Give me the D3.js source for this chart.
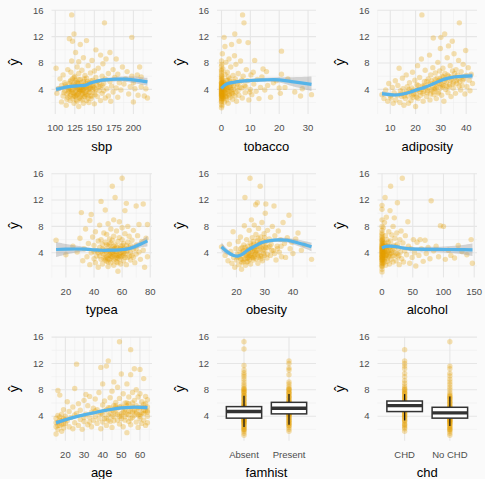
<!DOCTYPE html>
<html>
<head>
<meta charset="utf-8">
<script src="https://cdn.jsdelivr.net/npm/d3@7"></script>
<style>
body { margin: 0; background: #fafafa; }
svg { display: block; font-family: "Liberation Sans", Arial, sans-serif; }
</style>
</head>
<body>
<div id="chart"></div>
<script>
// y values (fitted values) share one range across all panels
var yRange = [0.98, 15.33];
var yTicks = [4, 8, 12, 16];
var yMinor = [2, 6, 10, 14];

// scatter panels: [x, yhat]
var sbpPoints = [[101,7.2],[102,3.4],[104,4.1],[106,5.6],[108,2.1],[108,4.6],[110,3.0],[110,6.2],[112,3.8],[112,5.0],[114,1.6],[114,4.4],[116,2.8],[116,7.0],[117,3.6],[118,4.9],[118,11.7],[119,2.3],[120,3.2],[120,4.0],[120,5.4],[120,6.6],[121,15.3],[121,8.3],[122,2.6],[122,3.9],[122,11.3],[123,4.7],[124,1.9],[124,3.4],[124,5.8],[124,12.4],[125,4.2],[125,6.0],[126,2.9],[126,3.7],[126,9.6],[127,4.5],[128,2.2],[128,3.1],[128,5.1],[128,7.4],[129,4.0],[130,1.4],[130,3.5],[130,4.8],[130,6.4],[130,8.2],[131,2.7],[132,3.9],[132,5.5],[132,10.8],[133,4.3],[134,2.4],[134,3.3],[134,6.9],[135,4.6],[136,1.9],[136,3.8],[136,5.2],[136,8.8],[137,4.1],[138,2.9],[138,6.1],[138,3.5],[139,4.9],[140,2.3],[140,4.4],[140,5.7],[140,11.4],[141,3.1],[142,7.6],[142,4.0],[143,2.0],[144,5.0],[144,3.6],[145,6.5],[146,4.6],[146,2.6],[147,8.4],[148,3.9],[148,5.4],[150,1.8],[150,4.2],[150,6.8],[151,3.2],[152,5.8],[152,10.0],[153,4.7],[154,2.9],[155,7.2],[156,3.8],[156,5.1],[158,2.3],[158,4.4],[158,9.2],[160,6.0],[160,3.4],[161,7.9],[162,4.9],[163,14.1],[164,2.7],[164,5.6],[165,8.6],[166,4.1],[168,6.4],[168,3.0],[170,5.2],[170,9.6],[171,2.2],[172,4.5],[174,7.0],[174,3.6],[176,5.8],[178,8.6],[178,4.2],[180,2.8],[180,6.3],[182,5.0],[184,3.9],[186,7.4],[188,4.8],[190,5.6],[192,6.7],[194,3.3],[196,4.4],[198,11.9],[198,6.0],[200,2.1],[200,5.0],[202,4.1],[205,6.2],[206,3.1],[208,7.4],[210,4.4],[210,5.9],[214,3.0],[216,4.1],[218,2.7],
  [115,3.3],[118,4.2],[121,3.6],[123,2.9],[126,4.4],[127,3.2],[129,4.9],[131,3.7],[133,2.6],[135,3.9],[137,3.0],[139,4.3],[141,4.9],[143,3.5],[145,4.2],[147,3.0],[149,4.6],[119,5.2],[125,5.1],[131,4.3],
  [111,3.5],[113,4.7],[115,2.5],[117,4.0],[119,3.0],[121,4.6],[122,5.6],[123,3.5],[124,4.5],[126,5.4],[127,2.4],[128,4.1],[129,3.3],[130,5.5],[131,4.0],[132,2.9],[133,5.0],[134,4.0],[135,3.3],[136,4.4],[137,5.6],[138,4.5],[139,3.2],[140,3.7],[141,5.2],[142,2.7],[143,4.4],[144,4.1],[145,3.0],[146,5.3],[148,4.4],[150,3.5],[152,4.0],[154,5.2],[156,4.4],[160,4.6],[162,3.8],[118,3.8],[125,3.0],[133,3.7]];
var tobaccoPoints = [[0,1.2],[0,1.7],[0,2.1],[0,2.4],[0,2.7],[0,2.9],[0,3.1],[0,3.3],[0,3.5],[0,3.7],[0,3.9],[0,4.1],[0,4.3],[0,4.5],[0,4.8],[0,5.1],[0,5.4],[0,5.8],[0,6.2],[0,6.8],[0,7.5],[0,8.3],[0,2.2],[0,3.0],[0,3.6],[0,4.0],[0,4.6],[0.1,2.5],[0.1,3.4],[0.1,4.9],[0.2,1.5],[0.2,3.8],[0.3,2.9],[0.3,5.6],[0.4,4.2],[0.5,3.2],[0.5,7.1],[0.6,2.6],[0.7,4.4],[0.8,3.6],[0.9,11.9],[1.0,5.0],[1.0,2.1],[1.1,3.9],[1.2,10.5],[1.2,6.3],[1.3,4.7],[1.4,3.0],[1.5,8.1],[1.6,5.4],[1.8,2.4],[1.8,4.1],[2.0,3.4],[2.0,6.6],[2.1,4.8],[2.3,1.9],[2.4,5.9],[2.5,3.7],[2.6,8.6],[2.8,4.4],[3.0,2.8],[3.0,5.2],[3.2,7.4],[3.4,3.9],[3.5,10.8],[3.6,4.9],[3.8,2.5],[4.0,6.1],[4.0,3.3],[4.2,4.5],[4.5,9.1],[4.6,12.4],[4.8,5.6],[5.0,3.6],[5.0,7.8],[5.2,2.2],[5.5,4.8],[5.8,6.4],[6.0,3.1],[6.1,11.3],[6.3,5.1],[6.6,8.3],[7.0,4.2],[7.2,2.7],[7.3,15.3],[7.5,6.0],[7.8,14.1],[8.0,4.6],[8.2,3.5],[8.6,7.0],[9.0,5.3],[9.2,11.1],[9.5,2.4],[10.0,4.0],[10.2,6.2],[10.5,3.2],[11.0,6.6],[11.2,4.8],[11.5,8.4],[12.0,3.7],[12.4,5.5],[13.0,2.6],[13.5,4.3],[14.0,5.9],[14.4,7.1],[15.0,3.9],[15.6,6.7],[16.0,4.6],[17.0,2.8],[18.0,5.0],[19.0,5.3],[20.0,4.2],[20.4,3.4],[20.8,6.3],[20.8,9.8],[22.0,4.3],[23.0,5.6],[25.4,3.6],[27.4,3.0],[28.0,4.1],[31.2,3.2],
  [0,3.2],[0,4.4],[0,5.0],[0.2,3.0],[0.4,5.2],[0.6,3.8],[0.8,4.6],[1.0,3.3],[1.4,4.4],[1.6,2.9],[2.2,4.0],[2.6,3.1],[3.2,4.2],[3.6,3.4],[4.4,5.2],[0.05,6.0],[0.1,7.8],[0.3,9.4],
  [0,2.6],[0,3.4],[0,3.8],[0,4.2],[0,4.9],[0,5.6],[0.05,3.3],[0.15,4.0],[0.25,4.6],[0.35,3.5],[0.45,2.8],[0.55,5.0],[0.7,3.0],[0.9,4.1],[1.1,4.8],[1.3,3.5],[1.5,2.7],[1.7,4.5],[1.9,3.8],[2.1,5.4],[2.4,4.3],[2.7,3.2],[2.9,5.6],[3.3,4.6],[3.7,3.6],[4.1,4.0],[4.7,3.0],[5.3,4.4],[5.7,3.8],[6.4,4.3],[7.0,5.4],[8.4,4.4],[9.8,3.6],[0,6.5],[0,7.0]];
var adiposityPoints = [[6.7,3.2],[7.5,2.6],[8.2,3.9],[9.0,2.2],[9.4,4.9],[10.0,3.0],[10.3,2.7],[10.8,4.3],[11.2,1.9],[11.5,3.5],[12.0,5.3],[12.2,2.4],[12.8,3.1],[13.0,4.6],[13.5,7.2],[13.8,2.0],[14.0,3.8],[14.5,2.9],[14.8,5.7],[15.0,4.1],[15.4,1.6],[15.8,3.4],[16.0,2.6],[16.3,6.2],[16.7,4.4],[17.0,3.0],[17.2,1.9],[17.6,5.0],[18.0,3.6],[18.2,2.3],[18.5,4.2],[18.8,6.6],[19.0,2.8],[19.3,3.9],[19.7,5.4],[20.0,1.4],[20.2,3.3],[20.5,4.7],[20.8,7.6],[21.0,2.6],[21.3,4.0],[21.6,5.8],[22.0,3.1],[22.3,8.6],[22.5,15.3],[22.6,4.5],[23.0,2.2],[23.2,3.7],[23.5,5.2],[23.8,6.9],[24.0,4.2],[24.3,2.9],[24.6,3.5],[25.0,5.6],[25.2,4.8],[25.5,9.2],[25.7,2.4],[26.0,6.2],[26.2,3.9],[26.5,4.5],[26.8,7.3],[27.0,11.8],[27.2,3.2],[27.5,5.0],[27.8,6.5],[28.0,4.1],[28.2,2.6],[28.5,5.7],[28.8,8.1],[29.0,3.6],[29.3,4.9],[29.5,6.8],[29.8,10.2],[30.0,5.3],[30.0,11.9],[30.3,3.1],[30.6,4.4],[30.8,7.2],[31.0,5.9],[31.2,2.2],[31.5,12.4],[31.6,6.4],[31.9,4.0],[32.2,5.1],[32.5,8.8],[32.8,3.5],[33.0,10.6],[33.1,6.0],[33.4,4.7],[33.7,7.6],[34.0,2.9],[34.2,5.5],[34.5,11.3],[34.6,6.8],[34.9,4.2],[35.2,9.4],[35.5,5.8],[35.8,3.4],[36.0,7.0],[36.3,4.9],[36.6,6.2],[37.0,8.4],[37.3,14.1],[37.5,5.2],[37.8,3.9],[38.0,6.7],[38.4,4.6],[38.8,7.8],[39.0,5.6],[39.5,3.3],[39.8,9.9],[40.0,6.1],[40.3,4.4],[40.8,7.3],[41.2,5.4],[41.5,3.8],[42.0,6.3],[42.5,4.9],
  [14.2,3.3],[16.5,3.6],[18.6,3.1],[20.4,2.8],[21.8,3.6],[23.6,4.4],[24.8,3.8],[26.4,5.3],[27.6,4.2],[28.6,4.8],[29.6,5.6],[30.4,4.7],[31.4,5.2],[32.4,4.4],[33.6,5.4],[35.0,5.1],[36.8,5.6],[38.2,5.9],
  [15.5,3.0],[17.4,4.0],[19.2,3.3],[20.7,3.9],[22.4,4.0],[23.3,4.6],[24.4,5.2],[25.3,4.2],[26.1,4.9],[26.9,3.6],[27.7,5.5],[28.4,4.4],[29.1,5.3],[29.9,4.2],[30.5,6.0],[31.1,4.6],[31.8,5.6],[32.6,6.2],[33.2,4.4],[34.1,5.9],[34.7,4.8],[35.4,6.4],[36.2,5.3],[37.2,4.5],[38.6,5.4],[25.9,3.3],[27.3,4.0],[28.9,3.4],[22.9,3.4],[21.1,4.6]];
var typeaPoints = [[13,5.9],[20,3.7],[25,5.0],[28,4.1],[30,6.2],[31,10.1],[32,2.8],[33,4.6],[34,7.6],[35,3.4],[36,5.4],[37,2.2],[37,8.9],[38,9.8],[38,4.0],[39,6.4],[40,3.1],[40,5.1],[41,2.5],[41,7.2],[42,4.3],[42,3.5],[43,5.8],[43,1.8],[44,4.8],[44,8.2],[45,11.8],[45,3.0],[45,6.0],[46,3.9],[46,2.3],[46,5.3],[47,4.5],[47,7.0],[48,3.3],[48,10.5],[48,5.6],[49,2.7],[49,4.1],[49,6.8],[50,3.6],[50,5.0],[50,8.4],[50,1.9],[51,4.4],[51,6.1],[51,3.0],[52,5.5],[52,2.5],[52,4.0],[52,7.6],[53,3.4],[53,14.1],[53,5.9],[53,4.7],[54,2.1],[54,3.8],[54,6.5],[54,9.0],[55,12.4],[55,4.2],[55,5.2],[55,3.1],[56,2.6],[56,4.9],[56,7.3],[57,3.6],[57,5.7],[57,1.2],[58,4.4],[58,6.3],[58,3.0],[58,8.7],[59,2.3],[59,5.0],[59,4.0],[60,15.3],[60,3.5],[60,6.0],[60,7.8],[61,4.6],[61,2.8],[61,5.4],[62,3.9],[62,10.4],[62,6.9],[63,11.5],[63,4.2],[63,2.2],[64,5.6],[64,3.3],[64,8.0],[65,4.8],[65,6.5],[66,2.9],[66,4.0],[67,5.9],[67,3.6],[68,7.4],[68,4.5],[69,2.5],[70,11.1],[70,5.2],[70,3.8],[71,6.6],[72,4.1],[72,8.3],[73,3.0],[74,5.7],[75,11.4],[75,4.4],[76,1.8],[77,6.2],[78,8.3],[78,3.4],
  [47,3.8],[49,3.4],[50,4.3],[51,3.7],[52,3.2],[53,4.1],[54,4.5],[55,3.6],[56,4.2],[57,3.2],[58,3.8],[59,4.6],[60,4.2],[61,3.6],[62,4.7],[54,2.9],[56,3.3],[50,2.6],
  [45,4.2],[46,4.6],[47,3.1],[48,4.3],[49,5.2],[50,3.1],[51,5.3],[52,4.5],[53,3.8],[54,5.0],[55,4.6],[56,3.7],[57,4.7],[58,3.5],[59,3.4],[60,5.1],[61,4.0],[62,3.3],[63,5.1],[64,4.3],[65,3.5],[66,5.1],[57,2.5],[52,3.5],[48,2.9],[43,4.0],[40,4.2],[68,3.3],[70,4.6],[44,3.5]];
var obesityPoints = [[14.7,4.9],[16.0,3.6],[17.0,2.8],[17.5,5.3],[18.0,4.2],[18.4,2.4],[18.8,7.2],[19.0,3.3],[19.4,1.8],[19.8,4.6],[20.0,2.9],[20.3,3.8],[20.6,5.7],[20.9,2.2],[21.2,4.1],[21.4,6.4],[21.6,3.0],[21.8,1.5],[22.0,4.8],[22.2,3.5],[22.4,2.6],[22.6,5.2],[22.8,8.1],[23.0,12.4],[23.0,3.9],[23.2,2.1],[23.4,4.4],[23.6,6.0],[23.8,3.2],[24.0,5.0],[24.1,2.7],[24.3,4.0],[24.5,7.4],[24.7,3.6],[24.8,15.3],[24.9,5.5],[25.0,2.3],[25.2,4.6],[25.3,9.0],[25.5,3.3],[25.6,6.3],[25.8,4.2],[26.0,2.9],[26.1,5.3],[26.3,8.2],[26.4,3.7],[26.6,4.9],[26.8,11.3],[26.9,6.8],[27.0,3.1],[27.2,4.4],[27.4,11.6],[27.4,5.8],[27.6,2.4],[27.8,7.7],[28.0,4.0],[28.1,5.4],[28.4,14.1],[28.4,3.5],[28.6,6.4],[28.8,4.7],[29.0,8.6],[29.2,2.8],[29.4,5.1],[29.6,3.9],[29.8,6.9],[30.0,4.4],[30.2,10.0],[30.4,11.4],[30.5,5.7],[30.8,3.2],[31.0,7.4],[31.2,4.8],[31.6,6.1],[32.0,3.6],[32.3,5.3],[32.7,8.0],[33.0,4.3],[33.3,11.1],[33.6,6.6],[34.0,2.9],[34.4,5.0],[34.8,7.3],[35.2,4.1],[35.6,6.0],[36.0,3.4],[36.5,8.6],[37.0,5.4],[37.4,3.3],[38.0,6.3],[38.6,9.7],[39.0,4.6],[39.6,5.6],[40.0,3.9],[41.0,6.1],[41.8,7.0],[43.0,4.4],[44.0,5.2],[46.6,3.0],
  [21.0,3.4],[22.1,4.1],[22.9,3.1],[23.5,3.6],[24.2,4.5],[24.6,3.0],[25.1,3.9],[25.7,4.8],[26.2,3.4],[26.7,4.1],[27.1,5.0],[27.5,3.7],[28.2,4.5],[28.9,3.5],[29.5,4.4],[30.1,5.1],[22.5,4.3],[23.9,3.8],[25.4,3.6],[26.5,4.4],
  [21.5,4.6],[22.3,2.9],[23.1,4.8],[23.7,2.6],[24.4,3.4],[24.9,4.3],[25.3,5.1],[25.9,3.2],[26.3,4.6],[26.9,3.9],[27.3,5.2],[27.8,3.3],[28.3,4.9],[28.7,3.1],[29.3,5.8],[29.9,3.6],[30.4,4.8],[31.0,3.8],[31.8,5.0],[32.5,4.4],[20.5,3.3],[21.8,2.6],[24.0,3.2],[26.0,5.7],[27.6,6.2],[28.6,5.6],[30.0,6.3],[33.5,3.9],[34.5,4.6],[35.8,5.0]];
var alcoholPoints = [[0,1.1],[0,1.5],[0,1.9],[0,2.2],[0,2.5],[0,2.8],[0,3.0],[0,3.2],[0,3.4],[0,3.6],[0,3.8],[0,4.0],[0,4.2],[0,4.4],[0,4.6],[0,4.9],[0,5.2],[0,5.5],[0,5.9],[0,6.3],[0,6.8],[0,7.4],[0,8.0],[0,9.0],[0,10.6],[0,11.2],[0,2.0],[0,3.3],[0,4.7],[0.5,2.7],[0.5,3.9],[0.8,5.1],[1,3.1],[1,6.1],[1.5,4.3],[2,2.4],[2,7.8],[2.5,3.6],[3,5.4],[3,4.0],[3.5,2.9],[4,8.6],[4,4.6],[5,12.4],[5,3.3],[5.5,6.6],[6,2.1],[6,5.0],[7,3.8],[7,9.4],[8,4.4],[8,6.0],[9,2.7],[10,5.6],[10,3.5],[11,7.2],[12,4.8],[12,2.3],[13,10.4],[13,3.9],[14,14.1],[14,5.8],[15,3.0],[16,6.7],[17,4.4],[18,8.0],[18,2.6],[19,5.1],[20,3.6],[20,9.3],[21,6.2],[22,4.0],[23,2.8],[24,7.0],[25,11.6],[25,5.3],[26,3.4],[27,4.7],[28,2.2],[29,6.0],[30,4.1],[31,7.3],[32,3.1],[33,15.3],[34,5.5],[35,2.6],[37,4.3],[38,6.6],[40,3.7],[42,8.7],[43,5.0],[45,2.4],[47,4.6],[49,3.3],[51,6.0],[53,4.0],[55,2.0],[57,5.6],[60,3.6],[62,6.0],[64,4.6],[67,2.7],[70,5.9],[72,3.9],[75,4.8],[78,3.1],[80,11.9],[84,4.3],[88,5.0],[92,3.4],[95,8.1],[100,8.0],[103,3.0],[108,4.4],[112,3.6],[118,3.2],[124,5.1],[130,4.2],[138,3.7],[145,6.0],[147,2.4],
  [0,3.5],[0,4.1],[0,5.0],[0,6.0],[0,7.0],[0.2,4.5],[0.6,3.4],[1.2,5.6],[1.8,3.7],[2.2,4.9],[3.2,3.2],[4.5,4.2],[5.2,5.5],[6.5,3.6],[7.5,4.9],[9.5,4.1],[11.5,3.4],[14.5,4.4],
  [0,2.4],[0,2.9],[0,3.7],[0,4.3],[0,4.8],[0,5.3],[0,5.7],[0,6.5],[0.3,3.0],[0.7,4.0],[1.0,4.6],[1.3,3.3],[2.0,4.2],[2.7,5.0],[3.5,3.8],[4.2,2.6],[5.0,4.1],[6.0,3.6],[6.8,4.5],[8.5,3.1],[9.0,5.1],[10.5,4.3],[12.5,3.7],[13.5,5.0],[15.5,4.0],[17.5,3.5],[19.5,4.6],[22.5,5.0],[24.5,3.9],[27.5,3.6]];
var agePoints = [[15,1.3],[15,2.4],[15,3.7],[16,2.0],[16,3.1],[16,4.1],[16,7.9],[17,2.6],[17,3.4],[17,7.2],[18,1.7],[18,2.8],[18,4.3],[19,2.2],[19,3.6],[19,5.0],[20,2.9],[20,4.0],[21,3.3],[21,6.2],[22,2.4],[22,4.7],[23,3.8],[24,2.1],[24,5.4],[25,8.2],[25,3.0],[26,11.9],[26,4.4],[27,2.6],[27,5.9],[28,3.5],[28,4.9],[29,2.0],[30,6.4],[30,3.2],[31,4.3],[31,7.3],[32,2.7],[32,5.6],[33,3.8],[33,7.0],[34,4.6],[34,2.4],[35,5.2],[35,3.4],[36,6.6],[36,4.0],[37,2.9],[37,5.0],[38,7.6],[38,3.6],[39,11.4],[39,4.4],[39,2.1],[40,5.7],[40,3.1],[40,8.9],[41,4.8],[41,6.3],[42,11.6],[42,3.7],[42,2.6],[43,12.4],[43,5.3],[43,4.2],[44,6.8],[44,3.2],[45,4.9],[45,7.8],[45,2.3],[46,5.6],[46,3.9],[46,9.2],[47,4.5],[47,6.1],[48,3.4],[48,5.2],[48,8.4],[49,15.3],[49,4.0],[49,6.7],[49,2.8],[50,5.5],[50,3.6],[50,10.4],[51,4.6],[51,7.4],[51,2.4],[52,6.0],[52,3.9],[52,5.0],[53,8.9],[53,4.3],[53,1.5],[54,5.9],[54,3.2],[54,6.9],[55,14.1],[55,4.7],[55,10.3],[55,2.7],[56,5.4],[56,3.8],[56,7.6],[57,11.2],[57,4.9],[57,6.4],[58,3.1],[58,5.6],[58,8.0],[59,4.2],[59,6.9],[59,2.3],[60,5.2],[60,3.6],[60,11.1],[60,7.4],[61,4.5],[61,6.2],[61,2.9],[62,5.8],[62,3.4],[62,9.7],[63,4.8],[63,7.0],[63,2.6],[64,5.4],[64,4.0],[64,6.5],[64,3.0],
  [15,3.0],[16,2.6],[17,3.9],[18,3.4],[19,2.8],[20,3.5],[44,4.4],[47,5.3],[50,4.4],[52,4.6],[54,4.2],[56,4.6],[58,4.5],[60,4.3],[62,4.9],[64,4.6],[46,4.7],[53,5.6],
  [40,4.2],[41,3.6],[42,5.0],[43,3.4],[44,5.3],[45,4.0],[46,3.3],[47,5.6],[48,4.3],[49,5.4],[50,4.0],[51,5.3],[52,3.4],[53,6.0],[54,4.8],[55,3.6],[56,6.0],[57,4.1],[58,4.8],[59,5.3],[60,4.0],[61,5.4],[62,4.4],[63,5.9],[64,4.8],[30,3.8],[33,3.1],[36,4.8],[38,4.5],[25,4.2]];

// loess fits: [x, fit, lower, upper]
var sbpFit = [[101,4.0,3.6,4.4],[110,4.25,3.95,4.55],[120,4.45,4.2,4.7],[130,4.55,4.35,4.75],[138,4.6,4.4,4.8],[145,4.95,4.7,5.2],[152,5.2,4.95,5.45],[160,5.4,5.1,5.7],[170,5.5,5.2,5.8],[180,5.55,5.2,5.9],[190,5.55,5.15,5.95],[200,5.45,4.95,5.95],[210,5.3,4.75,5.85],[218,5.15,4.55,5.75]];
var tobaccoFit = [[0,4.1,3.8,4.4],[0.5,4.4,4.15,4.65],[1,4.6,4.35,4.85],[2,4.85,4.6,5.1],[4,5.05,4.8,5.3],[7,5.25,5.0,5.5],[10,5.35,5.1,5.6],[15,5.45,5.15,5.75],[20,5.45,5.05,5.85],[25,5.15,4.45,5.85],[31.2,4.75,3.75,5.95]];
var adiposityFit = [[6.74,3.35,2.95,3.75],[9,3.25,2.95,3.55],[12,3.15,2.9,3.4],[15,3.3,3.08,3.52],[18,3.6,3.4,3.8],[21,4.0,3.8,4.2],[24,4.35,4.15,4.55],[27,4.85,4.65,5.05],[30,5.35,5.15,5.55],[33,5.7,5.48,5.92],[36,5.92,5.68,6.16],[39,6.0,5.7,6.3],[42.49,6.05,5.6,6.5]];
var typeaFit = [[13,4.5,3.35,5.65],[20,4.55,3.75,5.35],[27,4.57,4.05,5.1],[34,4.55,4.25,4.85],[40,4.45,4.2,4.7],[46,4.38,4.18,4.58],[52,4.4,4.2,4.6],[58,4.45,4.25,4.65],[63,4.55,4.3,4.8],[68,4.85,4.5,5.2],[73,5.3,4.8,5.8],[78,5.8,4.95,6.55]];
var obesityFit = [[14.7,4.9,4.25,5.55],[17,4.05,3.65,4.45],[19,3.6,3.35,3.85],[20.5,3.5,3.3,3.7],[22,3.75,3.55,3.95],[24,4.4,4.2,4.6],[26.5,5.0,4.8,5.2],[29,5.55,5.35,5.75],[32,5.85,5.6,6.1],[35,5.95,5.65,6.25],[38,5.9,5.55,6.25],[41,5.6,5.15,6.05],[44,5.25,4.7,5.8],[46.58,4.9,4.25,5.55]];
var alcoholFit = [[0,4.7,4.45,4.95],[4,4.9,4.7,5.1],[10,5.0,4.8,5.2],[20,4.98,4.75,5.2],[30,4.8,4.55,5.05],[40,4.65,4.35,4.95],[55,4.55,4.25,4.85],[75,4.52,4.15,4.9],[100,4.5,4.05,4.95],[125,4.48,3.85,5.1],[147.19,4.45,3.5,5.4]];
var ageFit = [[15,3.0,2.65,3.35],[20,3.45,3.2,3.7],[25,3.85,3.65,4.05],[30,4.2,4.0,4.4],[35,4.5,4.3,4.7],[40,4.8,4.6,5.0],[45,5.05,4.85,5.25],[50,5.25,5.05,5.45],[55,5.35,5.15,5.55],[60,5.35,5.1,5.6],[64,5.3,5.0,5.6]];

// box plot panels
var famhistCats = ["Absent", "Present"];
var chdCats = ["CHD", "No CHD"];
var famhistValues = {
  "Absent": [1.1,1.4,1.7,1.9,2.1,2.3,2.5,2.7,2.9,3.0,3.1,3.2,3.3,3.4,3.5,3.6,3.7,3.8,3.9,4.0,4.1,4.2,4.3,4.4,4.5,4.6,4.7,4.8,4.9,5.0,5.1,5.2,5.3,5.4,5.5,5.6,5.8,6.0,6.2,6.4,6.6,6.8,7.0,7.2,7.4,7.6,7.8,8.0,8.2,8.5,8.8,9.2,9.6,10.0,10.3,10.6,11.0,11.7,14.2,15.3,2.0,2.4,2.8,3.35,3.75,4.05,4.35,4.65,5.05,5.45,5.9,6.5,7.1,7.7,8.1],
  "Present": [1.7,2.0,2.3,2.6,2.8,3.0,3.2,3.4,3.6,3.8,4.0,4.1,4.2,4.3,4.4,4.5,4.6,4.7,4.8,4.9,5.0,5.1,5.2,5.3,5.4,5.5,5.6,5.7,5.8,5.9,6.0,6.1,6.2,6.4,6.6,6.8,7.0,7.2,7.4,7.6,7.8,8.0,8.2,8.5,8.9,9.2,10.3,11.0,11.3,12.0,12.4,2.5,2.9,3.3,3.7,4.25,4.75,5.25,5.75,6.3,6.9,7.5,8.1]
};
var chdValues = {
  "CHD": [1.7,2.1,2.5,2.8,3.1,3.4,3.6,3.8,4.0,4.2,4.4,4.6,4.8,5.0,5.1,5.2,5.3,5.4,5.5,5.6,5.7,5.8,5.9,6.0,6.1,6.2,6.4,6.6,6.8,7.0,7.2,7.4,7.6,7.8,8.0,8.3,8.6,9.0,9.4,10.0,10.5,11.2,11.6,12.0,12.4,14.1,2.3,2.7,3.3,3.9,4.3,4.7,5.15,5.45,5.85,6.3,6.9,7.5,8.1],
  "No CHD": [1.1,1.4,1.7,1.9,2.1,2.3,2.5,2.7,2.9,3.0,3.1,3.2,3.3,3.4,3.5,3.6,3.7,3.8,3.9,4.0,4.1,4.2,4.3,4.4,4.5,4.6,4.7,4.8,4.9,5.0,5.1,5.2,5.3,5.4,5.6,5.8,6.0,6.2,6.4,6.6,6.8,7.0,7.3,7.6,8.0,8.4,8.8,9.2,9.6,10.1,10.5,11.2,11.6,15.3,2.0,2.4,2.8,3.35,3.75,4.05,4.35,4.65,5.05,5.5,6.1,6.7,7.1]
};
// [lower whisker, q1, median, q3, upper whisker]
var famhistBox = { "Absent": [2.35,3.7,4.7,5.45,7.1], "Present": [2.7,4.35,5.2,6.1,7.35] };
var chdBox = { "CHD": [3.35,4.7,5.6,6.3,7.35], "No CHD": [2.5,3.7,4.5,5.35,7.0] };

var panels = [
  { name: "sbp", col: 0, row: 0, pts: sbpPoints, fit: sbpFit, extent: [101, 218], ticks: [100, 125, 150, 175, 200] },
  { name: "tobacco", col: 1, row: 0, pts: tobaccoPoints, fit: tobaccoFit, extent: [0, 31.2], ticks: [0, 10, 20, 30] },
  { name: "adiposity", col: 2, row: 0, pts: adiposityPoints, fit: adiposityFit, extent: [6.74, 42.49], ticks: [10, 20, 30, 40] },
  { name: "typea", col: 0, row: 1, pts: typeaPoints, fit: typeaFit, extent: [13, 78], ticks: [20, 40, 60, 80] },
  { name: "obesity", col: 1, row: 1, pts: obesityPoints, fit: obesityFit, extent: [14.7, 46.58], ticks: [20, 30, 40] },
  { name: "alcohol", col: 2, row: 1, pts: alcoholPoints, fit: alcoholFit, extent: [0, 147.19], ticks: [0, 50, 100, 150] },
  { name: "age", col: 0, row: 2, pts: agePoints, fit: ageFit, extent: [15, 64], ticks: [20, 30, 40, 50, 60] },
  { name: "famhist", col: 1, row: 2, cats: famhistCats, values: famhistValues, box: famhistBox },
  { name: "chd", col: 2, row: 2, cats: chdCats, values: chdValues, box: chdBox }
];

var colLeft = [51.5, 217, 377.5],
    colRight = [152, 316, 477],
    rowTop = [0, 163.4, 326.8],
    plotTop = 10,
    plotBottom = 114;

var pointColor = "#E69F00",
    lineColor = "#56B4E9",
    gridMajor = "#e6e6e6",
    gridMinor = "#efefef";

function expand(e) {
    var r = e[1] - e[0];
    return [e[0] - 0.05 * r, e[1] + 0.05 * r];
}

var svg = d3.select("#chart")
    .append("svg")
    .attr("width", 485)
    .attr("height", 479);

svg.append("rect")
    .attr("width", 485)
    .attr("height", 479)
    .attr("fill", "#fafafa");

var y = d3.scaleLinear()
    .domain(expand(yRange))
    .range([plotBottom, plotTop]);

panels.forEach(function(p) {
    var left = colLeft[p.col],
        right = colRight[p.col];
    var g = svg.append("g")
        .attr("transform", "translate(0," + rowTop[p.row] + ")");
    var x, xMajor, xMinor = [];

    if (p.cats) {
        x = d3.scalePoint().domain(p.cats).range([left, right]).padding(0.6);
        xMajor = p.cats;
    } else {
        x = d3.scaleLinear().domain(expand(p.extent)).range([left, right]);
        xMajor = p.ticks;
        var step = p.ticks[1] - p.ticks[0];
        var dom = x.domain();
        var first = p.ticks[0] - step / 2;
        if (first >= dom[0]) xMinor.push(first);
        for (var i = 0; i < p.ticks.length - 1; i++) xMinor.push(p.ticks[i] + step / 2);
        var last = p.ticks[p.ticks.length - 1] + step / 2;
        if (last <= dom[1]) xMinor.push(last);
    }

    // grid
    var grid = g.append("g");
    grid.selectAll(".hminor").data(yMinor).enter().append("line")
        .attr("x1", left).attr("x2", right)
        .attr("y1", function(d) { return y(d); }).attr("y2", function(d) { return y(d); })
        .attr("stroke", gridMinor).attr("stroke-width", 0.6);
    grid.selectAll(".vminor").data(xMinor).enter().append("line")
        .attr("y1", plotTop).attr("y2", plotBottom)
        .attr("x1", function(d) { return x(d); }).attr("x2", function(d) { return x(d); })
        .attr("stroke", gridMinor).attr("stroke-width", 0.6);
    grid.selectAll(".hmajor").data(yTicks).enter().append("line")
        .attr("x1", left).attr("x2", right)
        .attr("y1", function(d) { return y(d); }).attr("y2", function(d) { return y(d); })
        .attr("stroke", gridMajor).attr("stroke-width", 1.1);
    grid.selectAll(".vmajor").data(xMajor).enter().append("line")
        .attr("y1", plotTop).attr("y2", plotBottom)
        .attr("x1", function(d) { return x(d); }).attr("x2", function(d) { return x(d); })
        .attr("stroke", gridMajor).attr("stroke-width", 1.1);

    if (p.cats) {
        var bw = x.step() * 0.785;
        p.cats.forEach(function(c) {
            var cx = x(c);
            g.append("g").selectAll("circle")
                .data(p.values[c]).enter().append("circle")
                .attr("cx", cx)
                .attr("cy", function(d) { return y(d); })
                .attr("r", 2.7)
                .attr("fill", pointColor)
                .attr("fill-opacity", 0.3);
            var b = p.box[c];
            g.append("line")
                .attr("x1", cx).attr("x2", cx)
                .attr("y1", y(b[0])).attr("y2", y(b[4]))
                .attr("stroke", "#1a1a1a").attr("stroke-width", 1.3);
            g.append("rect")
                .attr("x", cx - bw / 2).attr("width", bw)
                .attr("y", y(b[3])).attr("height", y(b[1]) - y(b[3]))
                .attr("fill", "#ffffff")
                .attr("stroke", "#333333").attr("stroke-width", 1.5);
            g.append("line")
                .attr("x1", cx - bw / 2).attr("x2", cx + bw / 2)
                .attr("y1", y(b[2])).attr("y2", y(b[2]))
                .attr("stroke", "#333333").attr("stroke-width", 3.4);
        });
    } else {
        g.append("g").selectAll("circle")
            .data(p.pts).enter().append("circle")
            .attr("cx", function(d) { return x(d[0]); })
            .attr("cy", function(d) { return y(d[1]); })
            .attr("r", 2.7)
            .attr("fill", pointColor)
            .attr("fill-opacity", 0.3);

        var band = d3.area()
            .x(function(d) { return x(d[0]); })
            .y0(function(d) { return y(d[2]); })
            .y1(function(d) { return y(d[3]); })
            .curve(d3.curveCatmullRom);
        g.append("path")
            .datum(p.fit)
            .attr("d", band)
            .attr("fill", "#999999")
            .attr("fill-opacity", 0.4);

        var line = d3.line()
            .x(function(d) { return x(d[0]); })
            .y(function(d) { return y(d[1]); })
            .curve(d3.curveCatmullRom);
        g.append("path")
            .datum(p.fit)
            .attr("d", line)
            .attr("fill", "none")
            .attr("stroke", lineColor)
            .attr("stroke-width", 3.2);
    }

    // y tick labels
    g.selectAll(".ylab").data(yTicks).enter().append("text")
        .attr("x", left - 8)
        .attr("y", function(d) { return y(d); })
        .attr("dy", "0.35em")
        .attr("text-anchor", "end")
        .attr("font-size", "9.5px")
        .attr("fill", "#4d4d4d")
        .text(function(d) { return d; });

    // x tick labels
    g.selectAll(".xlab").data(xMajor).enter().append("text")
        .attr("x", function(d) { return x(d); })
        .attr("y", plotBottom + 14)
        .attr("dy", "0.35em")
        .attr("text-anchor", "middle")
        .attr("font-size", "9.5px")
        .attr("fill", "#4d4d4d")
        .text(function(d) { return d; });

    // axis titles
    g.append("text")
        .attr("x", (left + right) / 2)
        .attr("y", plotBottom + 32)
        .attr("dy", "0.35em")
        .attr("text-anchor", "middle")
        .attr("font-size", "13px")
        .attr("fill", "#000000")
        .text(p.name);

    g.append("text")
        .attr("transform", "translate(" + (left - 37) + "," + ((plotTop + plotBottom) / 2) + ") rotate(-90)")
        .attr("dy", "0.35em")
        .attr("text-anchor", "middle")
        .attr("font-size", "14px")
        .attr("fill", "#000000")
        .text("ŷ");
});
</script>
</body>
</html>
